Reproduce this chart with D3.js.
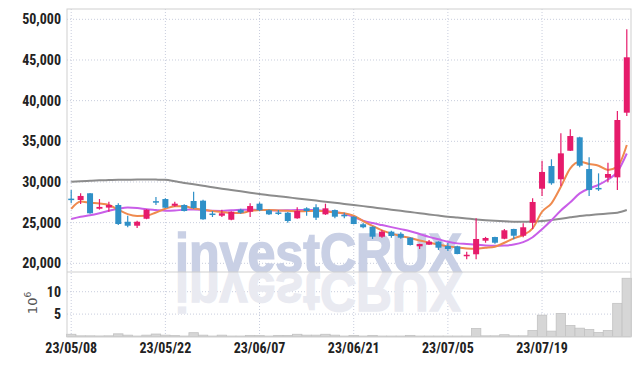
<!DOCTYPE html>
<html>
<head>
<meta charset="utf-8">
<script src="https://cdn.jsdelivr.net/npm/d3@7"></script>
<style>
	body { margin: 0; background: #fff; }
	.tick-label { font-family: "Liberation Sans Narrow", "Roboto Condensed", Roboto, sans-serif; font-weight: bold; font-size: 14px; fill: #222; }
</style>
</head>
<body>
<script>
var dates = ["23/05/08","23/05/09","23/05/10","23/05/11","23/05/12","23/05/15","23/05/16","23/05/17","23/05/18","23/05/19",
	"23/05/22","23/05/23","23/05/24","23/05/25","23/05/26","23/05/30","23/05/31","23/06/01","23/06/02","23/06/05",
	"23/06/07","23/06/08","23/06/09","23/06/12","23/06/13","23/06/14","23/06/15","23/06/16","23/06/19","23/06/20",
	"23/06/21","23/06/22","23/06/23","23/06/26","23/06/27","23/06/28","23/06/29","23/06/30","23/07/03","23/07/04",
	"23/07/05","23/07/06","23/07/07","23/07/10","23/07/11","23/07/12","23/07/13","23/07/14","23/07/17","23/07/18",
	"23/07/19","23/07/20","23/07/21","23/07/24","23/07/25","23/07/26","23/07/27","23/07/28","23/07/31","23/08/01"];

var openP = [27950,27780,28610,26710,26850,27170,25110,24620,25480,27640,
	27900,27080,27170,27660,27700,26120,25850,25360,26590,26340,
	27330,26520,26250,26220,25530,26760,26890,26020,26550,25960,
	25730,24800,24500,23270,23890,23600,23150,22090,22290,22660,
	22130,22090,21000,21110,22780,23230,23020,24220,23390,24990,
	29170,31960,30330,33840,35490,31590,29270,30520,30570,38520];
var highP = [29000,28600,28650,27900,27570,27380,25850,25240,26650,28150,
	28000,27580,27250,28800,27800,26430,26590,26400,26700,27380,
	27500,26600,26550,26300,26890,26890,27250,27330,26600,26220,
	25800,24990,24550,24090,24000,23810,23200,22400,22860,22700,
	22500,22150,21430,25530,23250,23250,24220,24250,24920,27990,
	32620,32790,35980,36470,35550,33030,31060,32370,38730,48770];
var lowP = [27380,27300,26100,26600,26350,24700,24430,24330,25420,27170,
	26800,26960,26380,26700,25350,25690,25700,25300,26100,25690,
	26400,25950,25940,24990,25480,25850,25320,25950,25530,25530,
	24800,24300,22990,23150,23150,23020,22200,21760,22250,21640,
	21510,21100,20490,20490,22530,22400,22950,22950,23200,24220,
	28270,29660,29500,33800,31800,28270,28900,29960,29010,38110];
var closeP = [27880,28280,26150,26930,27170,24830,24620,25110,26590,27570,
	26840,27330,26430,26800,25410,26050,26150,26340,26220,27040,
	26520,26020,26180,25200,26430,26430,25610,26760,25730,25920,
	24830,24430,23270,23890,23360,23150,22250,22370,22660,21920,
	21760,21140,21050,22990,23110,22530,24060,23390,24430,27540,
	31230,29840,33520,35650,32000,29010,29200,30980,37620,45330];

// volume, millions of shares
var volume = [0.5,0.15,0.15,0.12,0.15,0.6,0.3,0.1,0.3,0.55,
	0.3,0.2,0.1,0.85,0.3,0.1,0.3,0.1,0.1,0.25,
	0.2,0.1,0.25,0.25,0.5,0.3,0.3,0.5,0.3,0.1,
	0.25,0.1,0.25,0.1,0.1,0.1,0.25,0.1,0.1,0.1,
	0.1,0.1,0.1,1.8,0.15,0.15,0.4,0.15,0.15,1.35,
	4.77,1.2,5.15,2.46,1.86,1.57,0.9,1.34,7.4,13.0];

var ma5 = [26700,27600,27450,27350,27170,26580,26050,25830,25850,26250,
	26700,27030,27000,26750,26600,26430,26300,26200,26180,26420,
	26540,26550,26500,26450,26400,26420,26450,26400,26250,26150,
	25850,25200,24600,24050,23650,23350,23100,22800,22550,22300,
	22080,21930,21830,21800,21900,22040,22530,23070,23480,24300,
	26340,27380,29420,31680,32490,32210,32000,31470,31880,34540];
var ma20 = [25450,25730,25900,26150,26450,26700,26850,26800,26650,26550,
	26450,26480,26600,26620,26550,26450,26430,26520,26580,26580,
	26560,26520,26500,26520,26550,26560,26540,26420,26300,26100,
	25700,25250,24950,24700,24450,24200,23950,23600,23250,22950,
	22650,22450,22370,22300,22200,22150,22180,22300,22600,23200,
	24200,25300,26500,27500,28600,29200,29650,30300,31250,33500];
var ma60 = [30030,30100,30150,30200,30230,30260,30280,30300,30300,30290,
	30270,30080,29870,29710,29540,29340,29170,29010,28850,28680,
	28520,28370,28250,28110,27980,27840,27710,27570,27440,27300,
	27170,27030,26880,26740,26590,26450,26300,26160,26010,25870,
	25730,25620,25510,25400,25300,25220,25160,25120,25110,25140,
	25200,25330,25480,25650,25810,25920,26020,26120,26220,26550];

var dateTicks = ["23/05/08","23/05/22","23/06/07","23/06/21","23/07/05","23/07/19"];
var priceTicks = [20000,25000,30000,35000,40000,45000,50000];
var volumeTicks = [5,10];

var W = 639, H = 366;
var left = 67, right = 631, plotTop = 9, priceBottom = 272, volBottom = 337;

var svg = d3.select("body").append("svg")
	.attr("width", W)
	.attr("height", H);

var x = d3.scaleBand().domain(dates).range([66.5, 631.5]);
var yP = d3.scaleLinear().domain([18930, 51270]).range([priceBottom, plotTop]);
var yV = d3.scaleLinear().domain([0, 14.4]).range([336.5, priceBottom]);
var cx = function (d) { return x(d) + x.bandwidth() / 2; };

var data = dates.map(function (d, i) {
	return {date: d, o: openP[i], h: highP[i], l: lowP[i], c: closeP[i], v: volume[i],
		m5: ma5[i], m20: ma20[i], m60: ma60[i]};
});

// grid
var grid = svg.append("g")
	.attr("stroke", "#c8cddd")
	.attr("stroke-dasharray", "1,2");

grid.selectAll("line.gx")
	.data(dateTicks)
	.enter().append("line")
	.attr("x1", cx).attr("x2", cx)
	.attr("y1", plotTop).attr("y2", volBottom);

grid.selectAll("line.gp")
	.data(priceTicks)
	.enter().append("line")
	.attr("x1", left).attr("x2", right)
	.attr("y1", function (d) { return yP(d); })
	.attr("y2", function (d) { return yP(d); });

grid.selectAll("line.gv")
	.data(volumeTicks)
	.enter().append("line")
	.attr("x1", left).attr("x2", right)
	.attr("y1", function (d) { return yV(d); })
	.attr("y2", function (d) { return yV(d); });

// watermark and its reflection
svg.append("defs").append("clipPath")
	.attr("id", "volclip")
	.append("rect")
	.attr("x", left).attr("y", priceBottom)
	.attr("width", right - left).attr("height", volBottom - priceBottom);

var mark = function (g, fill) {
	g.append("text")
		.attr("x", 175)
		.attr("y", 272)
		.attr("textLength", 287)
		.attr("lengthAdjust", "spacingAndGlyphs")
		.attr("font-family", "Liberation Sans, Arial, sans-serif")
		.attr("font-weight", "bold")
		.attr("font-size", 55)
		.attr("fill", fill)
		.attr("stroke", fill)
		.attr("stroke-width", 1.5)
		.text("investCRUX");
};
mark(svg.append("g"), "#c9d0e5");
mark(svg.append("g")
	.attr("clip-path", "url(#volclip)")
	.append("g")
	.attr("transform", "translate(0,545) scale(1,-1)"), "#e9eaf1");

// volume bars
svg.append("g").selectAll("rect")
	.data(data)
	.enter().append("rect")
	.attr("x", function (d) { return x(d.date); })
	.attr("y", function (d) { return yV(d.v); })
	.attr("width", x.bandwidth())
	.attr("height", function (d) { return yV(0) - yV(d.v); })
	.attr("fill", "#d6d6d6")
	.attr("stroke", "#c2c2c2")
	.attr("stroke-width", 0.8);

// moving averages
var lines = [
	{key: "m60", color: "#8c8c8c"},
	{key: "m20", color: "#c95ee8"},
	{key: "m5", color: "#ef8a4e"}
];
lines.forEach(function (s) {
	svg.append("path")
		.datum(data)
		.attr("fill", "none")
		.attr("stroke", s.color)
		.attr("stroke-width", 2)
		.attr("d", d3.line()
			.curve(d3.curveMonotoneX)
			.x(function (d) { return cx(d.date); })
			.y(function (d) { return yP(d[s.key]); }));
});

// candles
var red = "#e61b6b", blue = "#2f90c7";
var colorOf = function (d) { return d.c >= d.o ? red : blue; };
var candle = svg.append("g").selectAll("g")
	.data(data)
	.enter().append("g");

candle.append("line")
	.attr("x1", function (d) { return cx(d.date); })
	.attr("x2", function (d) { return cx(d.date); })
	.attr("y1", function (d) { return yP(d.h); })
	.attr("y2", function (d) { return yP(d.l); })
	.attr("stroke", colorOf)
	.attr("stroke-width", 1.2);

candle.append("rect")
	.attr("x", function (d) { return cx(d.date) - 3; })
	.attr("y", function (d) { return yP(Math.max(d.o, d.c)); })
	.attr("width", 6)
	.attr("height", function (d) { return Math.max(1.5, Math.abs(yP(d.o) - yP(d.c))); })
	.attr("fill", colorOf);

// frame
var frame = svg.append("g").attr("stroke", "#cfcfcf").attr("fill", "none");
frame.append("rect")
	.attr("x", left).attr("y", plotTop)
	.attr("width", right - left).attr("height", volBottom - plotTop);
frame.append("line")
	.attr("x1", left).attr("x2", right)
	.attr("y1", priceBottom).attr("y2", priceBottom);

// axes labels
svg.selectAll("text.py")
	.data(priceTicks)
	.enter().append("text")
	.attr("class", "tick-label")
	.attr("x", 61)
	.attr("y", function (d) { return yP(d) + 5; })
	.attr("text-anchor", "end")
	.text(d3.format(","));

svg.selectAll("text.vy")
	.data(volumeTicks)
	.enter().append("text")
	.attr("class", "tick-label")
	.attr("x", 61)
	.attr("y", function (d) { return yV(d) + 5; })
	.attr("text-anchor", "end")
	.text(function (d) { return d; });

svg.selectAll("text.dx")
	.data(dateTicks)
	.enter().append("text")
	.attr("class", "tick-label")
	.attr("x", cx)
	.attr("y", 353)
	.attr("text-anchor", "middle")
	.text(function (d) { return d; });

var unit = svg.append("text")
	.attr("transform", "translate(37,303) rotate(-90)")
	.attr("text-anchor", "middle")
	.attr("font-family", "DejaVu Sans, sans-serif")
	.attr("font-size", 13)
	.attr("fill", "#555");
unit.append("tspan").text("10");
unit.append("tspan").attr("dy", -6).attr("font-size", 9).text("6");
</script>
</body>
</html>
